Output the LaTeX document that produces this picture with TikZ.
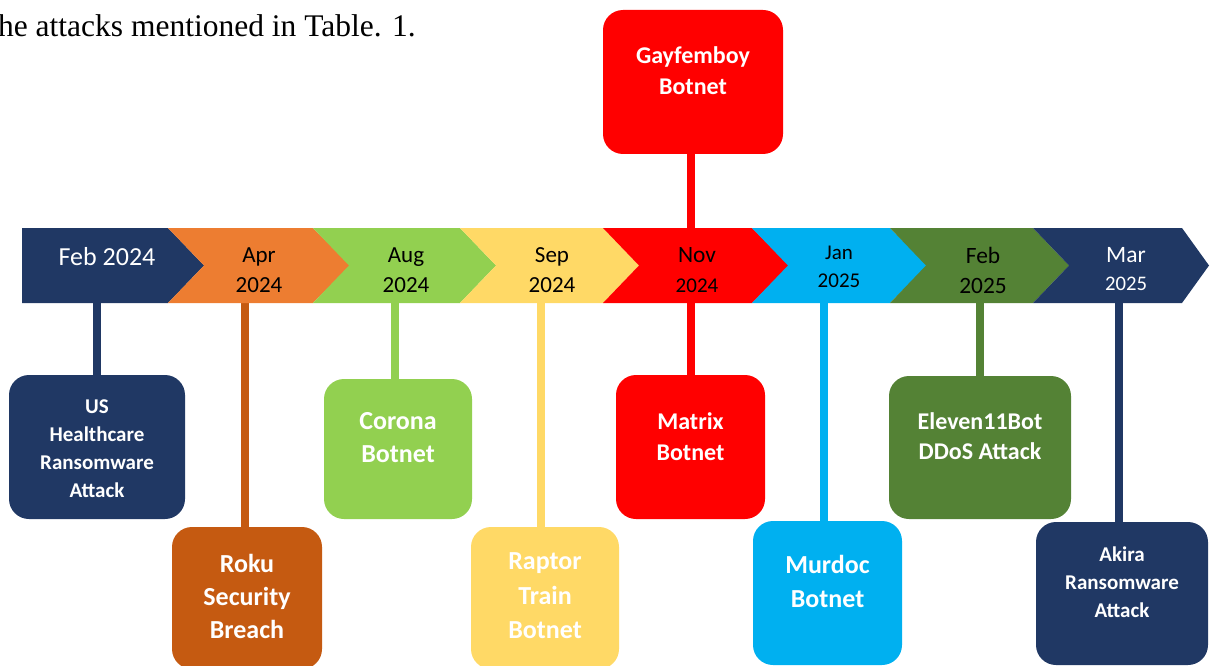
\documentclass[tikz,border=0pt]{standalone}
\usepackage{fontspec}
\setmainfont{Carlito}
\newfontfamily\bodyserif{Liberation Serif}
\usetikzlibrary{backgrounds}
\definecolor{navy}{HTML}{203864}
\definecolor{orangeband}{HTML}{ED7D31}
\definecolor{orangebox}{HTML}{C55A11}
\definecolor{lgreen}{HTML}{92D050}
\definecolor{lyellow}{HTML}{FFD966}
\definecolor{pred}{HTML}{FF0000}
\definecolor{lcyan}{HTML}{00B0F0}
\definecolor{dgreen}{HTML}{548235}
\tikzset{
  conn/.style={line width=7.5pt},
  evbox/.style={fill=#1, rounded corners=20pt, inner sep=0pt},
  evtext/.style={text=white, align=center, inner sep=0pt},
  datetxt/.style={align=center, inner sep=0pt},
}
\newcommand{\chevshape}[4]{%
  \fill[#4] (#1,228) -- (#2,228) -- (#3,265.5) -- (#2,303) -- (#1,303) -- (#1+36,265.5) -- cycle;}
\begin{document}
\begin{tikzpicture}[x=1pt,y=-1pt]
\useasboundingbox (0,0) rectangle (1210,666);

% caption fragment
\node[anchor=base east, inner sep=0pt, font=\bodyserif\fontsize{31.5}{36}\selectfont] (cap) at (416,37) {he attacks mentioned in Table. 1.};

% timeline band
\fill[navy] (22,228) -- (168,228) -- (204,265.5) -- (168,303) -- (22,303) -- cycle;
\chevshape{168}{313}{350}{orangeband}
\chevshape{313}{460}{496}{lgreen}
\chevshape{460}{603}{639}{lyellow}
\chevshape{603}{752}{790}{pred}
\chevshape{752}{890}{927}{lcyan}
\chevshape{890}{1033}{1069}{dgreen}
\chevshape{1033}{1182}{1209}{navy}
\coordinate (bandmid) at (0,265.5);

% date labels
\node[datetxt, text=white, font=\fontsize{26}{30}\selectfont] (d1) at (107,256.5) {Feb 2024};
\node[datetxt, font=\fontsize{23}{30}\selectfont] (d2) at (259,270.6) {Apr\\2024};
\node[datetxt, font=\fontsize{23}{30}\selectfont] (d3) at (406,270.6) {Aug\\2024};
\node[datetxt, font=\fontsize{23}{30}\selectfont] (d4) at (552,270.4) {Sep\\2024};
\node[datetxt, font=\fontsize{23.4}{29.5}\selectfont] (d5) at (697,270) {Nov\\{\fontsize{21}{29.5}\selectfont 2024}};
\node[datetxt, font=\fontsize{21}{28}\selectfont] (d6) at (839,267) {Jan\\2025};
\node[datetxt, font=\fontsize{23.4}{30}\selectfont] (d7) at (983,270) {Feb\\2025};
\node[datetxt, text=white, font=\fontsize{23.5}{28}\selectfont] (d8) at (1126,269.5) {Mar\\{\fontsize{20.7}{28}\selectfont 2025}};

% event boxes
\node[evbox=navy, minimum width=176pt, minimum height=144pt] (us) at (97,447) {};
\node[evbox=orangebox, minimum width=150pt, minimum height=142pt] (roku) at (247,598) {};
\node[evbox=lgreen, minimum width=148pt, minimum height=140pt] (corona) at (398,449) {};
\node[evbox=lyellow, minimum width=148pt, minimum height=142pt] (raptor) at (545,598) {};
\node[evbox=pred, minimum width=180pt, minimum height=144pt] (gay) at (693,82) {};
\node[evbox=pred, minimum width=149pt, minimum height=144pt] (matrix) at (690.5,447) {};
\node[evbox=lcyan, minimum width=149pt, minimum height=144pt] (murdoc) at (827.5,593) {};
\node[evbox=dgreen, minimum width=182pt, minimum height=143pt] (eleven) at (980,447.5) {};
\node[evbox=navy, minimum width=172pt, minimum height=143pt] (akira) at (1122,593.5) {};

% event texts
\node[evtext, font=\bfseries\fontsize{21}{28}\selectfont] (ust) at (97,449) {US\\Healthcare\\Ransomware\\Attack};
\node[evtext, font=\bfseries\fontsize{26}{33}\selectfont] (rokut) at (247,596.6) {Roku\\Security\\Breach};
\node[evtext, font=\bfseries\fontsize{26}{33}\selectfont] (coronat) at (398,438) {Corona\\Botnet};
\node[evtext, font=\bfseries\fontsize{26}{34.5}\selectfont] (raptort) at (545,596) {Raptor\\Train\\Botnet};
\node[evtext, font=\bfseries\fontsize{24}{31}\selectfont] (gayt) at (693,70.5) {Gayfemboy\\Botnet};
\node[evtext, font=\bfseries\fontsize{24}{31}\selectfont] (matrixt) at (690.5,437) {Matrix\\Botnet};
\node[evtext, font=\bfseries\fontsize{26}{34}\selectfont] (murdoct) at (827.5,581.5) {Murdoc\\Botnet};
\node[evtext, font=\bfseries\fontsize{24}{30}\selectfont] (elevent) at (980,436) {Eleven11Bot\\DDoS Attack};
\node[evtext, font=\bfseries\fontsize{21}{28}\selectfont] (akirat) at (1122,582) {Akira\\Ransomware\\Attack};

% connectors (behind the band)
\begin{pgfonlayer}{background}
\draw[conn, navy] (us.north) -- (us.north |- bandmid);
\draw[conn, orangebox] ([xshift=-2pt]roku.north) -- ([xshift=-2pt]roku.north |- bandmid);
\draw[conn, lgreen] ([xshift=-3pt]corona.north) -- ([xshift=-3pt]corona.north |- bandmid);
\draw[conn, lyellow] ([xshift=-4pt]raptor.north) -- ([xshift=-4pt]raptor.north |- bandmid);
\draw[conn, pred] ([xshift=-2pt]gay.south) -- ([xshift=-2pt]gay.south |- matrix.north);
\draw[conn, lcyan] ([xshift=-3.5pt]murdoc.north) -- ([xshift=-3.5pt]murdoc.north |- bandmid);
\draw[conn, dgreen] (eleven.north) -- (eleven.north |- bandmid);
\draw[conn, navy] ([xshift=-3pt]akira.north) -- ([xshift=-3pt]akira.north |- bandmid);
\end{pgfonlayer}
\end{tikzpicture}
\end{document}
